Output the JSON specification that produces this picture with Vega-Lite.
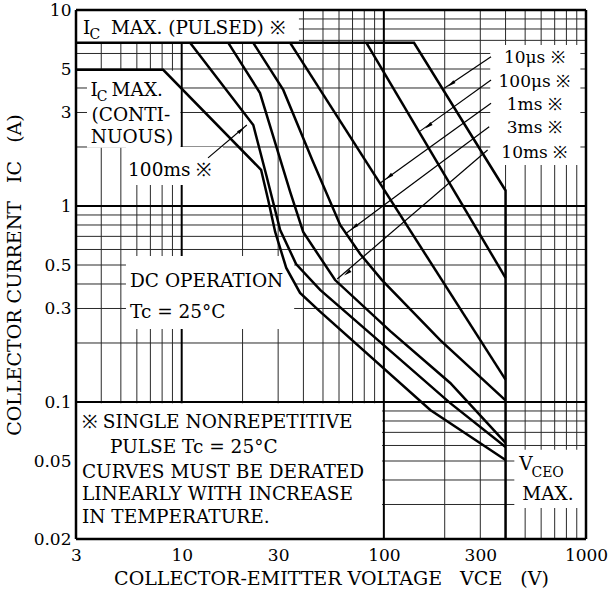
{
  "$schema": "https://vega.github.io/schema/vega-lite/v6.json",
  "width": 510,
  "height": 529,
  "autosize": {"type": "none"},
  "padding": {"left": 76, "top": 10, "right": 22, "bottom": 52},
  "background": "white",
  "config": {
    "view": {"stroke": null},
    "font": "DejaVu Serif",
    "axis": {"grid": false, "ticks": false, "domain": false, "labelFont": "DejaVu Serif", "labelFontSize": 17, "labelColor": "black", "labelFlush": false, "titleFont": "DejaVu Serif", "titleFontSize": 19, "titleFontWeight": "normal", "titleColor": "black", "zindex": 1}
  },
  "datasets": {
    "gxm": [{"v":4},{"v":5},{"v":6},{"v":7},{"v":8},{"v":9},{"v":20},{"v":30},{"v":40},{"v":50},{"v":60},{"v":70},{"v":80},{"v":90},{"v":200},{"v":300},{"v":400},{"v":500},{"v":600},{"v":700},{"v":800},{"v":900}],
    "gym": [{"i":0.03},{"i":0.04},{"i":0.05},{"i":0.06},{"i":0.07},{"i":0.08},{"i":0.09},{"i":0.2},{"i":0.3},{"i":0.4},{"i":0.5},{"i":0.6},{"i":0.7},{"i":0.8},{"i":0.9},{"i":2},{"i":3},{"i":4},{"i":5},{"i":6},{"i":7},{"i":8},{"i":9}],
    "gxM": [{"v":10},{"v":100}],
    "gyM": [{"i":0.1},{"i":1}],
    "fx": [{"v":3},{"v":1000}],
    "fy": [{"i":0.02},{"i":10}],
    "boxes": [
      {"v":3,"v2":38,"i":6.8,"i2":10},
      {"v":3.4,"v2":9.85,"i":1.98,"i2":4.9},
      {"v":5.3,"v2":16,"i":1.28,"i2":2.0},
      {"v":5.3,"v2":36,"i":0.236,"i2":0.556},
      {"v":3,"v2":98,"i":0.02,"i2":0.0985},
      {"v":442,"v2":1000,"i":0.0288,"i2":0.057},
      {"v":336,"v2":938,"i":1.62,"i2":6.63}
    ],
    "curves": [
      {"c":"10us","n":1,"v":3,"i":6.8},{"c":"10us","n":2,"v":141,"i":6.8},{"c":"10us","n":3,"v":400,"i":1.2},{"c":"10us","n":4,"v":400,"i":0.02},
      {"c":"100us","n":1,"v":82,"i":6.8},{"c":"100us","n":2,"v":400,"i":0.43},
      {"c":"1ms","n":1,"v":34.4,"i":6.8},{"c":"1ms","n":2,"v":400,"i":0.13},
      {"c":"3ms","n":1,"v":22.6,"i":6.8},{"c":"3ms","n":2,"v":31.8,"i":3.91},{"c":"3ms","n":3,"v":44.2,"i":1.72},{"c":"3ms","n":4,"v":60.8,"i":0.8},{"c":"3ms","n":5,"v":76.4,"i":0.569},{"c":"3ms","n":6,"v":97.9,"i":0.419},{"c":"3ms","n":7,"v":190,"i":0.207},{"c":"3ms","n":8,"v":400,"i":0.102},
      {"c":"10ms","n":1,"v":17.0,"i":6.8},{"c":"10ms","n":2,"v":24.4,"i":3.77},{"c":"10ms","n":3,"v":34.4,"i":1.18},{"c":"10ms","n":4,"v":39.9,"i":0.737},{"c":"10ms","n":5,"v":57.4,"i":0.419},{"c":"10ms","n":6,"v":107.6,"i":0.23},{"c":"10ms","n":7,"v":213,"i":0.125},{"c":"10ms","n":8,"v":400,"i":0.0618},
      {"c":"100ms","n":1,"v":11.0,"i":6.8},{"c":"100ms","n":2,"v":22.6,"i":2.59},{"c":"100ms","n":3,"v":26.2,"i":1.44},{"c":"100ms","n":4,"v":30.7,"i":0.754},{"c":"100ms","n":5,"v":36.8,"i":0.506},{"c":"100ms","n":6,"v":48.4,"i":0.373},{"c":"100ms","n":7,"v":96,"i":0.202},{"c":"100ms","n":8,"v":213,"i":0.0987},{"c":"100ms","n":9,"v":400,"i":0.0589},
      {"c":"DC","n":1,"v":3,"i":4.95},{"c":"DC","n":2,"v":8.1,"i":4.95},{"c":"DC","n":3,"v":24.7,"i":1.53},{"c":"DC","n":4,"v":26.8,"i":1.07},{"c":"DC","n":5,"v":29.0,"i":0.737},{"c":"DC","n":6,"v":32.9,"i":0.483},{"c":"DC","n":7,"v":38.5,"i":0.36},{"c":"DC","n":8,"v":48.4,"i":0.289},{"c":"DC","n":9,"v":169.7,"i":0.091},{"c":"DC","n":10,"v":400,"i":0.0506}
    ],
    "arrows": [
      {"a":"10us","n":1,"v":339,"i":5.78},{"a":"10us","n":2,"v":199,"i":3.99},
      {"a":"100us","n":1,"v":339,"i":4.39},{"a":"100us","n":2,"v":151,"i":2.41},
      {"a":"1ms","n":1,"v":339,"i":3.34},{"a":"1ms","n":2,"v":96,"i":1.31},
      {"a":"3ms","n":1,"v":332,"i":2.54},{"a":"3ms","n":2,"v":64.4,"i":0.72},
      {"a":"10ms","n":1,"v":326,"i":1.93},{"a":"10ms","n":2,"v":58.8,"i":0.424},
      {"a":"100ms","n":1,"v":13.5,"i":1.76},{"a":"100ms","n":2,"v":21.0,"i":2.59}
    ],
    "headsR": [{"v":215.5,"i":4.19},{"v":166,"i":2.56},{"v":106,"i":1.41},{"v":71.4,"i":0.781},{"v":65.9,"i":0.455}],
    "headsL": [{"v":19.7,"i":2.44}],
    "txt": [
      {"v":3.25,"i":7.54,"t":"I"},
      {"v":4.47,"i":7.54,"t":"MAX. (PULSED) ※"},
      {"v":3.54,"i":3.64,"t":"I"},
      {"v":4.5,"i":3.64,"t":"MAX."},
      {"v":3.58,"i":2.72,"t":"(CONTI-"},
      {"v":3.55,"i":2.09,"t":"NUOUS)"},
      {"v":5.43,"i":1.42,"t":"100ms ※"},
      {"v":5.55,"i":0.386,"t":"DC OPERATION"},
      {"v":5.55,"i":0.268,"t":"Tc = 25°C"},
      {"v":3.21,"i":0.0737,"t":"※ SINGLE NONREPETITIVE"},
      {"v":4.42,"i":0.0549,"t":"PULSE Tc = 25°C"},
      {"v":3.21,"i":0.041,"t":"CURVES MUST BE DERATED"},
      {"v":3.21,"i":0.0316,"t":"LINEARLY WITH INCREASE"},
      {"v":3.21,"i":0.0241,"t":"IN TEMPERATURE."},
      {"v":468,"i":0.045,"t":"V"},
      {"v":484,"i":0.0316,"t":"MAX."}
    ],
    "lbl": [
      {"v":555,"i":5.37,"t":"10μs ※"},
      {"v":555,"i":4.06,"t":"100μs ※"},
      {"v":555,"i":3.09,"t":"1ms ※"},
      {"v":555,"i":2.357,"t":"3ms ※"},
      {"v":555,"i":1.758,"t":"10ms ※"}
    ],
    "sub": [
      {"v":3.5,"i":7.11,"t":"C"},
      {"v":3.8,"i":3.45,"t":"C"},
      {"v":537,"i":0.0414,"t":"CEO"}
    ]
  },
  "layer": [
    {
      "data": {"name": "gxm"},
      "mark": {"type": "rule", "stroke": "#2a2a2a", "strokeWidth": 1},
      "encoding": {"x": {"field": "v", "type": "quantitative", "scale": {"type": "log", "domain": [3, 1000], "nice": false},
        "axis": {"values": [3, 10, 30, 100, 300, 1000], "format": "~g", "labelPadding": 8, "title": "COLLECTOR-EMITTER VOLTAGE\u00a0\u00a0\u00a0VCE\u00a0\u00a0\u00a0(V)", "titlePadding": 6}}}
    },
    {
      "data": {"name": "gym"},
      "mark": {"type": "rule", "stroke": "#2a2a2a", "strokeWidth": 1},
      "encoding": {"y": {"field": "i", "type": "quantitative", "scale": {"type": "log", "domain": [0.02, 10], "nice": false},
        "axis": {"values": [0.02, 0.05, 0.1, 0.3, 0.5, 1, 3, 5, 10], "format": "~g", "labelPadding": 5, "title": "COLLECTOR CURRENT\u00a0\u00a0\u00a0IC\u00a0\u00a0\u00a0(A)", "titlePadding": 9}}}
    },
    {
      "data": {"name": "gxM"},
      "mark": {"type": "rule", "stroke": "black", "strokeWidth": 2},
      "encoding": {"x": {"field": "v", "type": "quantitative"}}
    },
    {
      "data": {"name": "gyM"},
      "mark": {"type": "rule", "stroke": "black", "strokeWidth": 2},
      "encoding": {"y": {"field": "i", "type": "quantitative"}}
    },
    {
      "data": {"name": "boxes"},
      "mark": {"type": "rect", "fill": "white", "strokeWidth": 0},
      "encoding": {
        "x": {"field": "v", "type": "quantitative"},
        "x2": {"field": "v2"},
        "y": {"field": "i", "type": "quantitative"},
        "y2": {"field": "i2"}
      }
    },
    {
      "data": {"name": "fx"},
      "mark": {"type": "rule", "stroke": "black", "strokeWidth": 2.5},
      "encoding": {"x": {"field": "v", "type": "quantitative"}}
    },
    {
      "data": {"name": "fy"},
      "mark": {"type": "rule", "stroke": "black", "strokeWidth": 2.5},
      "encoding": {"y": {"field": "i", "type": "quantitative"}}
    },
    {
      "data": {"name": "curves"},
      "mark": {"type": "line", "stroke": "black", "strokeWidth": 2.5, "strokeJoin": "miter"},
      "encoding": {
        "x": {"field": "v", "type": "quantitative"},
        "y": {"field": "i", "type": "quantitative"},
        "detail": {"field": "c"},
        "order": {"field": "n"}
      }
    },
    {
      "data": {"name": "arrows"},
      "mark": {"type": "line", "stroke": "black", "strokeWidth": 1.2},
      "encoding": {
        "x": {"field": "v", "type": "quantitative"},
        "y": {"field": "i", "type": "quantitative"},
        "detail": {"field": "a"},
        "order": {"field": "n"}
      }
    },
    {
      "data": {"name": "headsR"},
      "mark": {"type": "point", "shape": "M0,-1L0.45,1L-0.45,1Z", "filled": true, "color": "black", "size": 64, "angle": 232, "opacity": 1},
      "encoding": {
        "x": {"field": "v", "type": "quantitative"},
        "y": {"field": "i", "type": "quantitative"}
      }
    },
    {
      "data": {"name": "headsL"},
      "mark": {"type": "point", "shape": "M0,-1L0.45,1L-0.45,1Z", "filled": true, "color": "black", "size": 64, "angle": 50, "opacity": 1},
      "encoding": {
        "x": {"field": "v", "type": "quantitative"},
        "y": {"field": "i", "type": "quantitative"}
      }
    },
    {
      "data": {"name": "txt"},
      "mark": {"type": "text", "align": "left", "baseline": "alphabetic", "font": "DejaVu Serif", "fontSize": 18.5, "color": "black"},
      "encoding": {
        "x": {"field": "v", "type": "quantitative"},
        "y": {"field": "i", "type": "quantitative"},
        "text": {"field": "t"}
      }
    },
    {
      "data": {"name": "lbl"},
      "mark": {"type": "text", "align": "center", "baseline": "alphabetic", "font": "DejaVu Serif", "fontSize": 17, "color": "black"},
      "encoding": {
        "x": {"field": "v", "type": "quantitative"},
        "y": {"field": "i", "type": "quantitative"},
        "text": {"field": "t"}
      }
    },
    {
      "data": {"name": "sub"},
      "mark": {"type": "text", "align": "left", "baseline": "alphabetic", "font": "DejaVu Serif", "fontSize": 14, "color": "black"},
      "encoding": {
        "x": {"field": "v", "type": "quantitative"},
        "y": {"field": "i", "type": "quantitative"},
        "text": {"field": "t"}
      }
    }
  ]
}
